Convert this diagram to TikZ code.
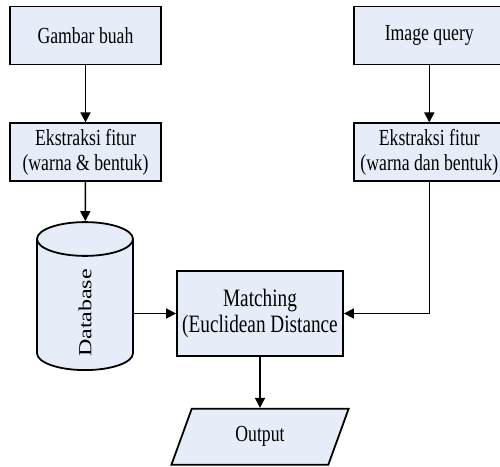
\documentclass[tikz,border=0pt]{standalone}
\usepackage{fontspec}
\setmainfont{Liberation Serif}[FakeStretch=0.77]
\newfontfamily\dbfont{Liberation Serif}
\usetikzlibrary{positioning,shapes.geometric,arrows.meta}
\definecolor{boxfill}{RGB}{231,237,248}
\tikzset{
  box/.style    = {rectangle, draw=black, line width=1.8pt, fill=boxfill,
                   align=center, inner sep=2pt, minimum width=151pt,
                   minimum height=58pt, font=\fontsize{23}{25}\selectfont},
  dbase/.style  = {cylinder, draw=black, line width=1.8pt, fill=boxfill,
                   rotate=90, aspect=2.6, minimum width=96pt,
                   minimum height=148pt, inner sep=0pt,
                   font=\dbfont\fontsize{24}{26}\selectfont},
  outbox/.style = {trapezium, trapezium left angle=70, trapezium right angle=110,
                   trapezium stretches=true, draw=black, line width=1.8pt,
                   fill=boxfill, minimum width=178pt, minimum height=56pt,
                   inner sep=0pt, font=\fontsize{23}{25}\selectfont},
  flow/.style   = {-{Triangle[length=10pt,width=10pt]}, line width=1.6pt, black},
}
\begin{document}
\begin{tikzpicture}[x=1pt, y=1pt]
  \useasboundingbox (0,0) rectangle (500,466);

  % left column
  \node[box] (gambar) at (85.5,430.5) {Gambar buah};
  \node[box, below=57pt of gambar] (ekstrA) {Ekstraksi fitur\\(warna \& bentuk)};
  \node[dbase] (db) at (85,161)
       {\makebox[0pt]{\scalebox{1}[0.77]{Database}\hspace*{16pt}}};

  % right column
  \node[box, right=191pt of gambar] (query) {Image query};
  \node[box, below=57pt of query] (ekstrB) {Ekstraksi fitur\\(warna dan bentuk)};

  % matching and output
  \node[box, minimum width=166pt, minimum height=85pt, font=\fontsize{25}{26}\selectfont]
       (match) at (260,152.5) {Matching\\(Euclidean Distance};
  \node[outbox, below=51pt of match] (out) {Output};

  \draw[flow] (gambar) -- (ekstrA);
  \draw[flow] (ekstrA) -- (db);
  \draw[flow] (query) -- (ekstrB);
  \draw[flow] (ekstrB) |- (match);
  \draw[flow] (db.south |- match.west) -- (match.west);
  \draw[flow] (match) -- (out);
\end{tikzpicture}
\end{document}
